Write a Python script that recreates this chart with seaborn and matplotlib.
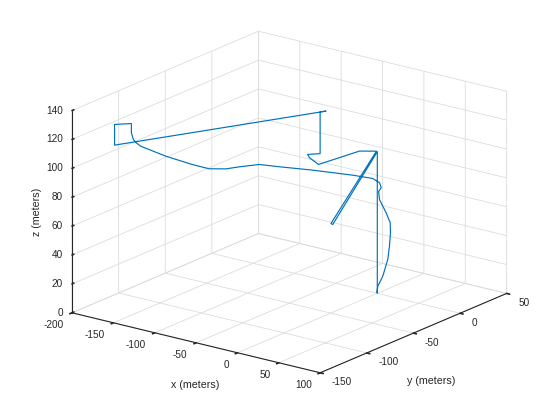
import numpy as np
import matplotlib
matplotlib.use("Agg")
import matplotlib.pyplot as plt
import seaborn as sns
from matplotlib.ticker import NullFormatter

# ---------------- data ----------------
x_m = [0, 0, 97.6, 94.4, -1.6, -14.9, -22.2, -41.5, -48.8, -40.5, -40.5, -37.2,
       -170.0, -170.0, -158.7, -158.7, -157.7, -154.7, -150.4, -118.2, -87.9,
       -72.4, -64.7, -63.3, -57.4, -43.0, -21.7, 2.6, 10.9, 10.7, 10.7, 7.5,
       7.0, 12.7, 15.6, 15.7, 15.6, 14.9, 9.9, 3.4, -0.4]
y_m = [0, 0, -134.5, -133.5, 0.5, -5.9, -43.3, -36.0, -31.4, -25.4, -25.4, -22.0,
       -131.0, -131.0, -123.0, -123.0, -121.7, -121.2, -120.3, -121.9, -120.4,
       -116.0, -105.0, -91.9, -75.7, -66.9, -50.1, -28.7, -14.6, -7.1, -5.3, -5.2,
       -3.9, -1.8, 0.0, 0.2, -0.8, -2.0, -2.9, -2.5, -0.1]
z_m = [0, 98, 98, 98, 98, 98, 98, 98, 98, 98, 127, 127,
       115, 129.3, 129.3, 122.9, 118, 116, 114, 112, 110,
       108, 106, 104, 102, 100, 96, 90, 85, 80, 76, 73,
       67, 58, 51, 44, 35, 26, 14, 6, 0.5]

x_ticks = [-200, -150, -100, -50, 0, 50, 100]
y_ticks = [-150, -100, -50, 0, 50]
z_ticks = [0, 20, 40, 60, 80, 100, 120, 140]
x_label, y_label, z_label = "x (meters)", "y (meters)", "z (meters)"

# ---------------- style ----------------
sns.set_theme(style="white")
plt.rcParams["font.family"] = ["Liberation Sans", "DejaVu Sans"]
line_color = "#0072BD"
grid_color = "#dcdcdc"
ink = "#262626"

W, H = 560, 420
fig = plt.figure(figsize=(W / 100, H / 100), dpi=100)
fig.patch.set_facecolor("white")
ax = fig.add_axes([0.1, 0.1, 0.6, 0.6 * W / H], projection="3d", proj_type="ortho")
ax.patch.set_alpha(0)
ax.view_init(elev=18.7, azim=-53)
ax.set_box_aspect((310, 309, 213))

ax.plot(x_m, y_m, z_m, color=line_color, lw=0.85)

ax.set_xlim(x_ticks[0], x_ticks[-1])
ax.set_ylim(y_ticks[0], y_ticks[-1])
ax.set_zlim(z_ticks[0], z_ticks[-1])
ax.set_xticks(x_ticks)
ax.set_yticks(y_ticks)
ax.set_zticks(z_ticks)
ax.grid(True)
for axis in (ax.xaxis, ax.yaxis, ax.zaxis):
    axis.set_major_formatter(NullFormatter())
    axis.set_pane_color((1, 1, 1, 0))
    axis.pane.set_edgecolor(grid_color)
    axis.pane.set_linewidth(0.6)
    axis._axinfo["grid"].update(color=grid_color, linewidth=0.6)
    axis._axinfo["tick"]["inward_factor"] = 0.15
    axis._axinfo["tick"]["outward_factor"] = 0.0
    axis.line.set_color(ink)
    axis.line.set_linewidth(0.8)
ax.zaxis._axinfo["tick"]["inward_factor"] = 0.0
ax.zaxis._axinfo["tick"]["outward_factor"] = 0.12
ax.tick_params(axis="x", colors=ink, width=0.6)
ax.tick_params(axis="y", colors=ink, width=0.6)
ax.tick_params(axis="z", colors=ink, width=0.6)


def to_px(xs, ys, zs):
    M = ax.get_proj()
    P = np.vstack([np.asarray(xs, float), np.asarray(ys, float),
                   np.asarray(zs, float), np.ones(len(xs))])
    V = M @ P
    u = V[0] / V[3]
    v = V[1] / V[3]
    return ax.transData.transform(np.column_stack([u, v]))


# ---- put the z axis on the left vertical edge, like MATLAB ----
best, best_x = None, None
for opt in ("lower", "upper", "default"):
    ax.zaxis.set_ticks_position(opt)
    fig.canvas.draw()
    xd = np.asarray(ax.zaxis.line.get_xdata(), float)
    yd = np.asarray(ax.zaxis.line.get_ydata(), float)
    if xd.size == 0:
        continue
    mx = ax.transData.transform(np.column_stack([xd, yd]))[:, 0].mean()
    if best_x is None or mx < best_x:
        best, best_x = opt, mx
ax.zaxis.set_ticks_position(best)

# ---- fit the axes box so the 3D frame lands where the reference frame is ----
xl, xh = x_ticks[0], x_ticks[-1]
yl, yh = y_ticks[0], y_ticks[-1]
zl, zh = z_ticks[0], z_ticks[-1]
cx = [xl, xh, xh, xl, xl, xh]
cy = [yl, yl, yh, yh, yl, yh]
cz = [zl, zl, zl, zh, zh, zh]
tgt = np.array([[73, H - 313], [321, H - 373], [507, H - 294],
                [257, H - 32], [72, H - 111], [506, H - 89]], float)
for _ in range(2):
    fig.canvas.draw()
    bb = ax.get_position().transformed(fig.transFigure)
    X0, Y0, S = bb.x0, bb.y0, bb.width
    d = to_px(cx, cy, cz)
    f = (d - [X0, Y0]) / S
    A = np.zeros((12, 3))
    rhs = np.zeros(12)
    A[0::2, 0] = f[:, 0]
    A[0::2, 1] = 1
    A[1::2, 0] = f[:, 1]
    A[1::2, 2] = 1
    rhs[0::2] = tgt[:, 0]
    rhs[1::2] = tgt[:, 1]
    s, nx0, ny0 = np.linalg.lstsq(A, rhs, rcond=None)[0]
    ax.set_position([nx0 / W, ny0 / H, s / W, s / H])
fig.canvas.draw()

# ---- MATLAB-like tick labels and axis labels ----
inv = fig.transFigure.inverted()


def put(px, py, txt, **kw):
    fx, fy = inv.transform((px, py))
    fig.text(fx, fy, txt, color=ink, **kw)


tick_fs = 7.2
lab_fs = 7.7
d = to_px(x_ticks, [yl] * len(x_ticks), [zl] * len(x_ticks))
for (px, py), t in zip(d, x_ticks):
    put(px - 8.5, py - 12, f"{t:g}", ha="right", va="center", fontsize=tick_fs)
d = to_px([xh] * len(y_ticks), y_ticks, [zl] * len(y_ticks))
for (px, py), t in zip(d, y_ticks):
    put(px + 11.5, py - 9.5, f"{t:g}", ha="left", va="center", fontsize=tick_fs)
d = to_px([xl] * len(z_ticks), [yl] * len(z_ticks), z_ticks)
for (px, py), t in zip(d, z_ticks):
    put(px - 9, py, f"{t:g}", ha="right", va="center", fontsize=tick_fs)

(mx, my), = to_px([(xl + xh) / 2], [yl], [zl])
put(mx - 1, my - 42, x_label, ha="center", va="center", fontsize=lab_fs)
(mx, my), = to_px([xh], [(yl + yh) / 2], [zl])
put(mx + 18, my - 47.5, y_label, ha="center", va="center", fontsize=lab_fs)
(mx, my), = to_px([xl], [yl], [(zl + zh) / 2])
put(mx - 34.7, my, z_label, ha="center", va="center", rotation=90, fontsize=lab_fs)

fig.savefig("out.png", dpi=100, facecolor="white")
